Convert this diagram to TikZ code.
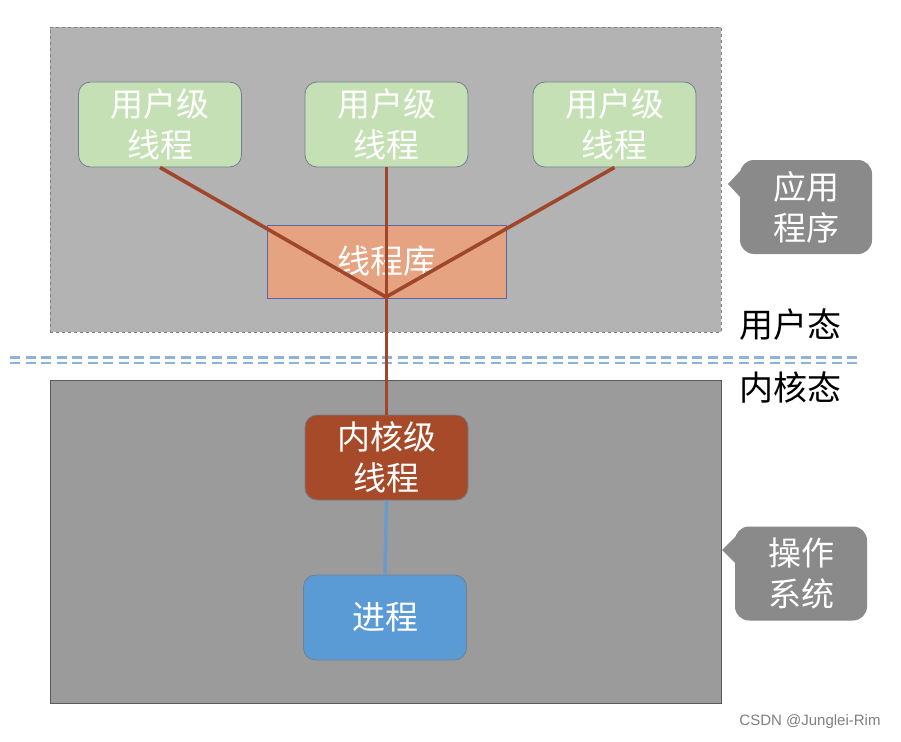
\documentclass[tikz,border=0pt]{standalone}
\usepackage{fontspec}
\setmainfont{Liberation Sans}
\newfontfamily\cjk{Noto Sans CJK SC}
\definecolor{topbg}{HTML}{B3B3B3}
\definecolor{botbg}{HTML}{9B9B9B}
\definecolor{greenbox}{HTML}{C5E0B4}
\definecolor{libbox}{HTML}{E6A382}
\definecolor{kernbox}{HTML}{A64A29}
\definecolor{procbox}{HTML}{5B9BD5}
\definecolor{linkbrown}{HTML}{A0472B}
\definecolor{linkblue}{HTML}{6A9ACD}
\definecolor{callgray}{HTML}{8A8A8A}
\definecolor{sepblue}{HTML}{8DB3D8}
\definecolor{edgegray}{HTML}{6F8090}
\begin{document}
\begin{tikzpicture}[x=1pt,y=-1pt,
  boxtext/.style={font=\cjk\fontsize{33}{41}\selectfont, text=white, align=center},
  thread/.style={boxtext, rounded corners=12pt, inner sep=0pt, minimum width=163pt, minimum height=85pt, draw=edgegray, line width=0.8pt},
  link/.style={draw=linkbrown, line width=3.6pt},
  callout/.style={boxtext, fill=callgray, rounded corners=14pt, inner sep=0pt, minimum width=132pt, minimum height=94pt},
  statetext/.style={font=\cjk\fontsize{34}{40}\selectfont, text=black}
]
\useasboundingbox[fill=white] (0,0) rectangle (901,741);
% regions
\node[fill=topbg, draw=gray, dashed, line width=0.6pt, minimum width=671pt, minimum height=305pt, inner sep=0pt, anchor=north west] (app) at (50,27) {};
\node[fill=botbg, draw=gray!70!black, line width=0.6pt, minimum width=671pt, minimum height=323pt, inner sep=0pt, anchor=north west] (os) at (50,380) {};
% separator
\coordinate (sl) at (10,357.5); \coordinate (sr) at (858,357.5);
\coordinate (sl2) at (10,363); \coordinate (sr2) at (858,363);
\draw[sepblue, line width=2.8pt, dash pattern=on 10pt off 5.5pt] (sl) -- (sr);
\draw[sepblue, line width=2.8pt, dash pattern=on 10pt off 5.5pt] (sl2) -- (sr2);
% user threads
\node[thread, fill=greenbox] (u1) at (160,124.5) {用户级\\线程};
\node[thread, fill=greenbox] (u2) at (386.5,124.5) {用户级\\线程};
\node[thread, fill=greenbox] (u3) at (614.5,124.5) {用户级\\线程};
% library
\node[boxtext, fill=libbox, draw=edgegray!80!blue, line width=0.8pt, minimum width=239pt, minimum height=73pt, inner sep=0pt] (lib) at (386.5,261.5) {线程库};
% kernel thread and process
\node[thread, fill=kernbox] (kt) at (386.5,457.5) {内核级\\线程};
\node[thread, fill=procbox] (pr) at (385,617.5) {进程};
% connectors
\coordinate (J) at (386,297);
\draw[link] (u1.south) -- (J);
\draw[link] (u3.south) -- (J);
\draw[link] (u2.south) -- (kt.north);
\draw[draw=linkblue, line width=3.4pt] (kt.south) -- (pr.north);
% callouts
\node[callout] (c1) at (806,207) {应用\\程序};
\fill[callgray] (741,170) -- (728,184) -- (741,198) -- cycle;
\node[callout] (c2) at (801,573.5) {操作\\系统};
\fill[callgray] (736,536) -- (722,550) -- (736,564) -- cycle;
% state labels
\node[statetext] (ut) at (790,325) {用户态};
\node[statetext] (kt2) at (790,388) {内核态};
% watermark
\node[font=\fontsize{15}{17}\selectfont, text=gray] (wm) at (810,722) {CSDN @Junglei-Rim};
\end{tikzpicture}
\end{document}
